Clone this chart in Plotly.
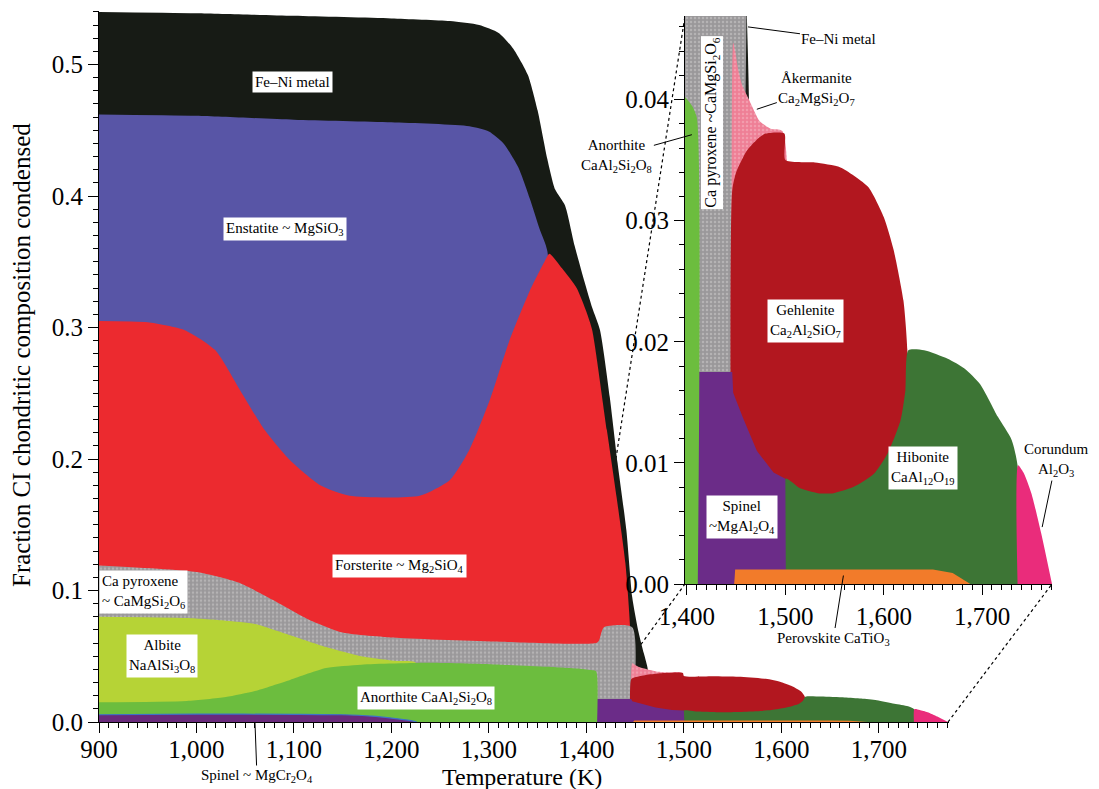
import plotly.graph_objects as go

W, H = 1099, 789
OFF = 8  # the page body margin shifts the figure by this many pixels
SERIF = "Liberation Serif, Times New Roman, serif"

# ---- phase upper boundaries (cumulative), temperature in K, fraction condensed ----
# painter order: each phase is filled down to zero, later phases cover the earlier ones
feni_T = [900, 1000, 1100, 1200, 1260, 1290, 1310, 1325, 1340, 1350, 1360, 1368, 1378, 1388,
          1398, 1406, 1414, 1424, 1432, 1441, 1447, 1453, 1459, 1463, 1464]
feni_top = [0.540, 0.539, 0.537, 0.535, 0.533, 0.530, 0.524, 0.512, 0.492, 0.465, 0.428, 0.405,
            0.393, 0.362, 0.335, 0.315, 0.298, 0.247, 0.197, 0.146, 0.095, 0.070, 0.052, 0.040, 0.0]

enst_T = [900, 1000, 1100, 1200, 1280, 1300, 1315, 1330, 1342, 1352, 1360, 1362]
enst_top = [0.462, 0.461, 0.458, 0.456, 0.453, 0.449, 0.440, 0.422, 0.398, 0.375, 0.358, 0.0]

fo_T = [900, 950, 988, 1019, 1045, 1070, 1096, 1127, 1157, 1229, 1260, 1280, 1301, 1321, 1342,
        1357, 1362, 1375, 1390, 1400, 1406, 1421, 1431, 1440, 1445, 1446]
fo_top = [0.305, 0.304, 0.298, 0.283, 0.252, 0.222, 0.199, 0.180, 0.172, 0.172, 0.184, 0.207,
          0.245, 0.290, 0.328, 0.350, 0.356, 0.345, 0.330, 0.312, 0.298, 0.222, 0.171, 0.121,
          0.070, 0.0]

cpx_T = [900, 1000, 1043, 1078, 1115, 1150, 1205, 1312, 1410, 1413, 1418, 1447, 1447.5]
cpx_top = [0.119, 0.114, 0.106, 0.093, 0.078, 0.068, 0.064, 0.061, 0.060, 0.062, 0.072, 0.072, 0.0]

ak_T = [1446, 1447, 1449, 1452, 1456, 1463, 1474, 1485, 1497, 1498]
ak_top = [0.0, 0.0447, 0.0440, 0.0425, 0.0412, 0.0400, 0.0382, 0.0376, 0.0374, 0.0]

geh_T = [1445, 1446, 1450, 1461, 1474, 1480, 1499, 1500, 1530, 1556, 1584, 1600, 1610, 1620,
         1624, 1625]
geh_top = [0.0, 0.0325, 0.0340, 0.0358, 0.0369, 0.0372, 0.0372, 0.0350, 0.0348, 0.0344, 0.0328,
           0.0303, 0.0276, 0.0234, 0.0193, 0.0]

hib_T = [1499.5, 1500, 1515, 1533, 1549, 1569, 1590, 1604, 1617, 1622, 1625, 1641, 1665, 1682,
         1698, 1716, 1730, 1736, 1736.5]
hib_top = [0.0, 0.0087, 0.0079, 0.0075, 0.0075, 0.0080, 0.0091, 0.0108, 0.0135, 0.0160, 0.0193,
           0.0193, 0.0186, 0.0178, 0.0165, 0.0138, 0.0119, 0.0098, 0.0]

cor_T = [1736, 1736.5, 1742, 1750, 1760, 1771]
cor_top = [0.0, 0.0098, 0.0092, 0.0075, 0.0042, 0.0]

spa_T = [1409, 1446, 1447, 1457, 1471, 1488, 1500, 1500.5]
spa_top = [0.0175, 0.0175, 0.0158, 0.0137, 0.0110, 0.0092, 0.0087, 0.0]

alb_T = [900, 990, 1030, 1060, 1096, 1133, 1169, 1205, 1225, 1226]
alb_top = [0.080, 0.079, 0.077, 0.0745, 0.066, 0.057, 0.050, 0.0464, 0.045, 0.0]

an_T = [900, 990, 1030, 1060, 1096, 1133, 1169, 1240, 1312, 1360, 1398, 1405, 1410, 1411]
an_top = [0.015, 0.016, 0.019, 0.0236, 0.032, 0.041, 0.0436, 0.045, 0.0436, 0.042, 0.0402,
          0.0395, 0.0385, 0.0]

pv_T = [1448, 1449, 1650, 1670, 1688]
pv_top = [0.0, 0.0012, 0.0012, 0.0009, 0.0]

spc_T = [900, 1000, 1100, 1150, 1180, 1200, 1220, 1226]
spc_top = [0.0055, 0.006, 0.0058, 0.0055, 0.0045, 0.003, 0.001, 0.0]

phases = [
    # name, T, top, colour, stipple colour, smooth
    ("Fe-Ni metal", feni_T, feni_top, "#171b15", None, True),
    ("Enstatite", enst_T, enst_top, "#5855a6", None, True),
    ("Forsterite", fo_T, fo_top, "#ec2a2f", None, True),
    ("Ca pyroxene", cpx_T, cpx_top, "#9a989a", "#d0cece", True),
    ("Akermanite", ak_T, ak_top, "#ee7f96", "#f6b8c4", True),
    ("Gehlenite", geh_T, geh_top, "#b2171f", None, True),
    ("Hibonite", hib_T, hib_top, "#3d7535", None, True),
    ("Corundum", cor_T, cor_top, "#ea2c7b", None, True),
    ("Spinel MgAl2O4", spa_T, spa_top, "#6b2c88", None, False),
    ("Albite", alb_T, alb_top, "#b6d336", None, True),
    ("Anorthite", an_T, an_top, "#6cbd3e", None, True),
    ("Perovskite", pv_T, pv_top, "#f27b2a", None, False),
    ("Spinel MgCr2O4", spc_T, spc_top, "#6a2a7c", None, True),
]


def fx(px):  # page pixel -> paper x
    return (px - OFF) / W


def fy(py):  # page pixel (from top) -> paper y
    return (H - (py - OFF)) / H


# axis ranges / panel placement (page pixels of the 1099x789 picture)
main_xr, main_yr = [900, 1772], [0, 0.541]
ins_xr, ins_yr = [1398, 1771], [0, 0.0469]
main_dx = [fx(99), fx(949)]
main_dy = [fy(722), fy(10.6)]
ins_dx = [fx(685), fx(1052)]
ins_dy = [fy(584), fy(16)]

fig = go.Figure()
for axes in (("x", "y"), ("x2", "y2")):
    for name, T, top, col, dots, smooth in phases:
        line = dict(width=0, color=col)
        if smooth:
            line.update(shape="spline", smoothing=0.6)
        if name == "Spinel MgCr2O4":
            line.update(width=1.2, color="#3d72c8")
        kw = dict(x=T, y=top, mode="lines", fill="tozeroy", name=name, line=line,
                  fillcolor=col, xaxis=axes[0], yaxis=axes[1], hoverinfo="skip")
        if dots:
            kw["fillpattern"] = dict(shape=".", bgcolor=col, fgcolor=dots, size=4, solidity=0.3)
        fig.add_trace(go.Scatter(**kw))

tickfont = dict(family=SERIF, size=25, color="black")
common = dict(showline=True, linecolor="black", linewidth=1, showgrid=False, zeroline=False,
              ticks="outside", tickcolor="black", ticklen=10, tickfont=tickfont, mirror=False,
              automargin=False)

fig.update_layout(
    width=W, height=H, margin=dict(l=0, r=0, t=0, b=0, autoexpand=False),
    paper_bgcolor="white", plot_bgcolor="rgba(0,0,0,0)", showlegend=False,
    font=dict(family=SERIF, color="black"),
    xaxis=dict(domain=main_dx, range=main_xr, anchor="y", tick0=900, dtick=100, tickformat=",d",
               ticklabelstandoff=-5,
               minor=dict(dtick=10, ticks="outside", ticklen=5, tickcolor="black"), **common),
    yaxis=dict(domain=main_dy, range=main_yr, anchor="x", dtick=0.1, tickformat=".1f",
               minor=dict(dtick=0.01, ticks="outside", ticklen=5, tickcolor="black"), **common),
    xaxis2=dict(domain=ins_dx, range=ins_xr, anchor="y2", tick0=1400, dtick=100, tickformat=",d",
                minor=dict(dtick=10, ticks="outside", ticklen=5, tickcolor="black"), **common),
    yaxis2=dict(domain=ins_dy, range=ins_yr, anchor="x2", dtick=0.01, tickformat=".2f",
                minor=dict(dtick=0.002, ticks="outside", ticklen=5, tickcolor="black"), **common),
)


def main_paper(T, v):
    px = main_dx[0] + (T - main_xr[0]) / (main_xr[1] - main_xr[0]) * (main_dx[1] - main_dx[0])
    py = main_dy[0] + (v - main_yr[0]) / (main_yr[1] - main_yr[0]) * (main_dy[1] - main_dy[0])
    return px, py


# dotted zoom lines from the main panel to the inset corners
for (T, v), (ix, iy) in [((ins_xr[0], ins_yr[1]), (ins_dx[0], ins_dy[1])),
                         ((ins_xr[0], 0), (ins_dx[0], ins_dy[0])),
                         ((ins_xr[1], 0), (ins_dx[1], ins_dy[0]))]:
    mx, my = main_paper(T, v)
    fig.add_shape(type="line", xref="paper", yref="paper", x0=mx, y0=my, x1=ix, y1=iy,
                  line=dict(color="black", width=1.2, dash="dot"), layer="below")

# boxed labels
box = dict(bgcolor="white", borderpad=2, showarrow=False, xanchor="center", yanchor="middle",
           font=dict(family=SERIF, size=15, color="black"))
main_labels = [
    (1098, 0.487, "Fe–Ni metal", "center"),
    (1091, 0.375, "Enstatite ~ MgSiO<sub>3</sub>", "center"),
    (1208, 0.119, "Forsterite ~ Mg<sub>2</sub>SiO<sub>4</sub>", "center"),
    (946, 0.099, "Ca pyroxene<br>~ CaMgSi<sub>2</sub>O<sub>6</sub>", "left"),
    (965, 0.050, "Albite<br>NaAlSi<sub>3</sub>O<sub>8</sub>", "center"),
    (1235, 0.018, "Anorthite CaAl<sub>2</sub>Si<sub>2</sub>O<sub>8</sub>", "center"),
]
for T, v, txt, al in main_labels:
    fig.add_annotation(x=T, y=v, xref="x", yref="y", text=txt, align=al, **box)

ins_labels = [
    (1520, 0.0217, "Gehlenite<br>Ca<sub>2</sub>Al<sub>2</sub>SiO<sub>7</sub>"),
    (1640, 0.0096, "Hibonite<br>CaAl<sub>12</sub>O<sub>19</sub>"),
    (1456, 0.0055, "Spinel<br>~MgAl<sub>2</sub>O<sub>4</sub>"),
]
for T, v, txt in ins_labels:
    fig.add_annotation(x=T, y=v, xref="x2", yref="y2", text=txt, **box)

fig.add_annotation(x=1425.5, y=0.0381, xref="x2", yref="y2", textangle=-90,
                   text="Ca pyroxene ~CaMgSi<sub>2</sub>O<sub>6</sub>",
                   bgcolor="white", borderpad=1, showarrow=False,
                   font=dict(family=SERIF, size=16, color="black"))

# leader-line labels
lead = dict(showarrow=True, arrowhead=0, arrowwidth=1, arrowcolor="black",
            font=dict(family=SERIF, size=15, color="black"))
leaders = [
    ("x2", "y2", 1462, 0.046, 91, 12, "Fe–Ni metal"),
    ("x2", "y2", 1471, 0.0392, 60, -20, "Åkermanite<br>Ca<sub>2</sub>MgSi<sub>2</sub>O<sub>7</sub>"),
    ("x2", "y2", 1405, 0.0371, -75, 21, "Anorthite<br>CaAl<sub>2</sub>Si<sub>2</sub>O<sub>8</sub>"),
    ("x2", "y2", 1761, 0.0047, 14, -67, "Corundum<br>Al<sub>2</sub>O<sub>3</sub>"),
    ("x2", "y2", 1559, 0.0007, -10, 63, "Perovskite CaTiO<sub>3</sub>"),
    ("x", "y", 1060, 0.0, 2, 54, "Spinel ~ MgCr<sub>2</sub>O<sub>4</sub>"),
]
for xr, yr, T, v, ax, ay, txt in leaders:
    fig.add_annotation(x=T, y=v, xref=xr, yref=yr, ax=ax, ay=ay, text=txt, **lead)

# axis titles
fig.add_annotation(x=fx(522), y=fy(777), xref="paper", yref="paper", showarrow=False,
                   xanchor="center", yanchor="middle",
                   text="Temperature (K)", font=dict(family=SERIF, size=24, color="black"))
fig.add_annotation(x=fx(22), y=fy(355), xref="paper", yref="paper", showarrow=False,
                   xanchor="center", yanchor="middle", textangle=-90,
                   text="Fraction CI chondritic composition condensed",
                   font=dict(family=SERIF, size=25, color="black"))

fig.write_html("out.html")
